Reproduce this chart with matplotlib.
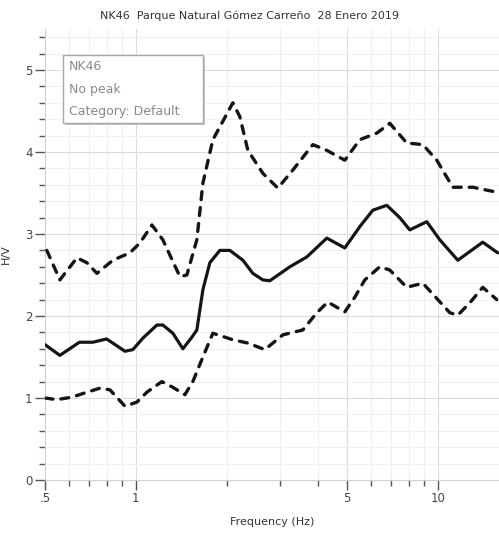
import numpy as np
import matplotlib
matplotlib.use("Agg")
import matplotlib.pyplot as plt
from matplotlib.patches import Rectangle
from matplotlib.ticker import FixedLocator, NullFormatter, FixedFormatter, MultipleLocator

# --- H/V curve (mean) ---
f_mean = [0.50, 0.56, 0.65, 0.72, 0.80, 0.92, 0.977, 1.055, 1.174, 1.228, 1.326,
          1.431, 1.532, 1.592, 1.667, 1.758, 1.897, 2.048, 2.262, 2.44, 2.634,
          2.778, 3.236, 3.683, 4.29, 4.92, 5.517, 6.093, 6.778, 7.483, 8.075,
          9.196, 10.15, 11.65, 14.09, 15.80]
hv_mean = [1.65, 1.52, 1.68, 1.68, 1.72, 1.57, 1.59, 1.73, 1.89, 1.89, 1.79,
           1.60, 1.74, 1.83, 2.32, 2.65, 2.80, 2.80, 2.68, 2.52, 2.44,
           2.43, 2.60, 2.72, 2.95, 2.83, 3.09, 3.29, 3.35, 3.20, 3.05,
           3.15, 2.93, 2.68, 2.90, 2.77]

# --- upper std curve ---
f_upper = [0.507, 0.56, 0.638, 0.688, 0.743, 0.839, 0.955, 1.031, 1.13, 1.228,
           1.399, 1.475, 1.592, 1.667, 1.799, 2.095, 2.21, 2.349, 2.634, 2.953,
           3.311, 3.856, 4.29, 4.92, 5.517, 6.281, 6.936, 7.893, 8.922, 9.924,
           11.21, 13.06, 15.68]
hv_upper = [2.80, 2.44, 2.71, 2.65, 2.52, 2.68, 2.77, 2.89, 3.11, 2.93,
            2.48, 2.50, 2.93, 3.62, 4.15, 4.60, 4.43, 4.02, 3.74, 3.56,
            3.78, 4.09, 4.02, 3.90, 4.15, 4.23, 4.35, 4.11, 4.09, 3.90,
            3.57, 3.57, 3.51]

# --- lower std curve ---
f_lower = [0.50, 0.547, 0.614, 0.688, 0.76, 0.82, 0.92, 1.008, 1.087, 1.219,
           1.326, 1.453, 1.544, 1.667, 1.799, 2.095, 2.349, 2.674, 3.068, 3.573,
           3.976, 4.322, 4.92, 5.311, 5.731, 6.426, 6.936, 7.893, 8.922, 10.96,
           11.65, 12.76, 14.09, 15.68]
hv_lower = [1.00, 0.98, 1.01, 1.07, 1.12, 1.10, 0.90, 0.95, 1.07, 1.20,
            1.13, 1.04, 1.20, 1.50, 1.79, 1.71, 1.67, 1.59, 1.77, 1.83,
            2.04, 2.17, 2.05, 2.23, 2.44, 2.60, 2.56, 2.35, 2.40, 2.04,
            2.01, 2.16, 2.35, 2.20]

x_major = [0.5, 1, 5, 10]
x_major_labels = [".5", "1", "5", "10"]
x_minor = [0.6, 0.7, 0.8, 0.9, 2, 3, 4, 6, 7, 8, 9]

title = "NK46  Parque Natural Gómez Carreño  28 Enero 2019"
info_lines = ["NK46", "No peak", "Category: Default"]

W, H = 499, 533
fig = plt.figure(figsize=(W / 100, H / 100), dpi=100)
ax = fig.add_axes([45 / W, 1 - 480 / H, (W - 45) / W, (480 - 29) / H])

ax.set_xscale("log")
ax.set_xlim(0.5, 15.95)
ax.set_ylim(0, 5.5)

# grid
for v in x_minor:
    ax.axvline(v, color="#efefef", lw=0.8, zorder=0)
for v in x_major[1:]:
    ax.axvline(v, color="#dcdcdc", lw=0.8, zorder=0)
for v in np.arange(0.2, 5.5, 0.2):
    major = abs(v - round(v)) < 1e-6
    ax.axhline(v, color="#dcdcdc" if major else "#efefef", lw=0.8, zorder=0)

lc = "#151515"
ax.plot(f_mean, hv_mean, color=lc, lw=2.3, solid_joinstyle="round",
        solid_capstyle="round", zorder=3)
for fx, hy in [(f_upper, hv_upper), (f_lower, hv_lower)]:
    ln, = ax.plot(fx, hy, color=lc, lw=2.4, dash_capstyle="round",
                  dash_joinstyle="round", zorder=3)
    ln.set_dashes([2.4, 2.4])

# ticks
ax.xaxis.set_major_locator(FixedLocator(x_major))
ax.xaxis.set_major_formatter(FixedFormatter(x_major_labels))
ax.xaxis.set_minor_locator(FixedLocator(x_minor))
ax.xaxis.set_minor_formatter(NullFormatter())
ax.yaxis.set_major_locator(MultipleLocator(1))
ax.yaxis.set_minor_locator(MultipleLocator(0.2))
ax.tick_params(axis="both", which="major", length=7, width=1, color="#555555",
               labelsize=8.5, labelcolor="#444444", pad=2)
ax.tick_params(axis="both", which="minor", length=4, width=1, color="#555555")

for side in ["top", "right"]:
    ax.spines[side].set_visible(False)
for side in ["left", "bottom"]:
    ax.spines[side].set_color("#d0d0d0")
    ax.spines[side].set_linewidth(0.8)

ax.set_xlabel("Frequency (Hz)", fontsize=8, color="#333333", labelpad=8)
ax.set_ylabel("H/V", fontsize=8, color="#333333", labelpad=10)
fig.text(250 / W, 1 - 16 / H, title, ha="center", va="center", fontsize=8, color="#333333")

# info box with shadow
bx, by, bw, bh = 63, 55, 140, 68
fig.patches.append(Rectangle(((bx + 2) / W, 1 - (by + bh + 2) / H), bw / W, bh / H,
                             transform=fig.transFigure, fc="#c8c8c8", ec="none", zorder=5))
fig.patches.append(Rectangle((bx / W, 1 - (by + bh) / H), bw / W, bh / H,
                             transform=fig.transFigure, fc="white", ec="#a8a8a8",
                             lw=1, zorder=6))
for i, line in enumerate(info_lines):
    fig.text((bx + 6) / W, 1 - (by + 12 + 22 * i) / H, line, ha="left", va="center",
             fontsize=9, color="#8a8a8a", zorder=7)

fig.savefig("out.png", dpi=100)
